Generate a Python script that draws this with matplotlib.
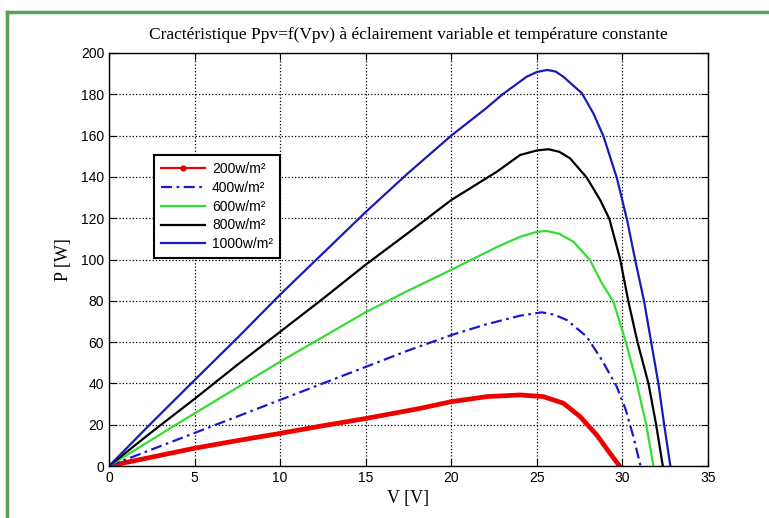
import matplotlib
matplotlib.use("Agg")
import matplotlib.pyplot as plt
from matplotlib.lines import Line2D

# Data
v_1000 = [0, 2.5, 5, 7.5, 10, 12.5, 15, 17.5, 20, 22, 23, 24.4, 25.0, 25.6, 26.1, 26.55, 27.63, 28.3, 28.9, 29.67, 30.26, 30.74, 31.27, 31.68, 32.1, 32.44, 32.8]
p_1000 = [0, 21, 41.6, 62, 83, 103, 123, 142, 160, 173, 180, 188.5, 190.8, 191.8, 191, 188.5, 180.5, 170.8, 159.5, 139.6, 119.6, 100, 79.6, 60, 40, 20, 0]

v_800 = [0, 2.5, 5, 7.5, 10, 12.5, 15, 17.5, 20, 22.66, 24.02, 25.0, 25.67, 26.3, 26.94, 27.92, 28.7, 29.24, 29.87, 30.35, 30.88, 31.52, 31.97, 32.36]
p_800 = [0, 16.5, 32.5, 49, 65, 81, 97.5, 113, 128.8, 142.5, 150.6, 152.8, 153.4, 152.2, 149, 139.6, 128.8, 119.6, 100, 79.6, 60, 40, 20, 0]

v_600 = [0, 2.5, 5, 7.5, 10, 12.5, 15, 17.5, 20, 22.66, 24.02, 25.0, 25.58, 26.3, 27.14, 28.1, 28.8, 29.47, 30.2, 30.84, 31.39, 31.81]
p_600 = [0, 12.8, 25.5, 38, 50.5, 62.5, 74.5, 85, 95, 106, 111, 113.4, 113.8, 112.5, 108.6, 99.8, 88.5, 79.6, 60, 40, 20, 0]

v_400 = [0, 2.5, 5, 7.5, 10, 12.5, 15, 17.5, 20, 22, 24.02, 25.29, 26.0, 26.75, 27.92, 28.8, 29.67, 30.2, 30.64, 31.06]
p_400 = [0, 8, 16, 24, 32, 40, 48, 56, 63.4, 68.5, 72.8, 74.4, 73.3, 70.7, 62.6, 51.3, 38.4, 27.1, 14.2, 0]

v_200 = [0, 2.5, 5, 7.5, 10, 12.5, 15, 18.18, 19.97, 22.07, 24.02, 25.38, 26.55, 27.53, 28.5, 29.28, 29.83]
p_200 = [0, 4.3, 8.6, 12.3, 15.8, 19.5, 23, 27.9, 31.1, 33.6, 34.4, 33.6, 30.4, 23.9, 15, 6.1, 0]

labels = ["200w/m²", "400w/m²", "600w/m²", "800w/m²", "1000w/m²"]
x_ticks = [0, 5, 10, 15, 20, 25, 30, 35]
y_ticks = [0, 20, 40, 60, 80, 100, 120, 140, 160, 180, 200]

fig = plt.figure(figsize=(7.69, 5.18), dpi=100)
ax = fig.add_axes([109/769, 52/518, 599/769, 413/518])

dashdot = (0, (5, 2, 1.2, 2))
ax.plot(v_200, p_200, color="#ee0000", lw=3.4, solid_capstyle="round", solid_joinstyle="round")
ax.plot(v_400, p_400, color="#1a1acc", lw=1.6, linestyle=dashdot)
ax.plot(v_600, p_600, color="#33dd33", lw=1.6, solid_joinstyle="round")
ax.plot(v_800, p_800, color="black", lw=1.6, solid_joinstyle="round")
ax.plot(v_1000, p_1000, color="#1a1ab8", lw=1.6, solid_joinstyle="round")

ax.set_xlim(0, 35)
ax.set_ylim(0, 200)
ax.set_xticks(x_ticks)
ax.set_yticks(y_ticks)
ax.grid(True, color="black", linestyle=":", linewidth=0.9)
ax.tick_params(direction="in", top=True, right=True, length=5, labelsize=10)
for lab in ax.get_xticklabels() + ax.get_yticklabels():
    lab.set_fontfamily("Liberation Sans")
for s in ax.spines.values():
    s.set_linewidth(1.0)

ax.set_title("Cractéristique Ppv=f(Vpv) à éclairement variable et température constante",
             fontfamily="Liberation Serif", fontsize=12.5, pad=10)
ax.set_xlabel("V [V]", fontfamily="Liberation Serif", fontsize=13, labelpad=4)
ax.set_ylabel("P [W]", fontfamily="Liberation Serif", fontsize=13, labelpad=6)

handles = [
    Line2D([], [], color="#ee0000", lw=1.6, marker=".", markersize=7),
    Line2D([], [], color="#1a1acc", lw=1.6, linestyle=dashdot),
    Line2D([], [], color="#33dd33", lw=1.6),
    Line2D([], [], color="black", lw=1.6),
    Line2D([], [], color="#1a1ab8", lw=1.6),
]
leg = ax.legend(handles, labels, loc="upper left", bbox_to_anchor=(0.063, 0.77),
                prop={"family": "Liberation Sans", "size": 10}, fancybox=False,
                framealpha=1, edgecolor="black", handlelength=3.2, borderpad=0.5,
                labelspacing=0.35, handletextpad=0.5)
leg.get_frame().set_linewidth(1.5)

# green frame of the screenshot
fig.add_artist(Line2D([7/769, 1.0], [1 - 12/518, 1 - 12/518], color="#5aa05a", lw=2.5,
                      transform=fig.transFigure))
fig.add_artist(Line2D([7/769, 7/769], [0, 1 - 12/518], color="#5aa05a", lw=2.5,
                      transform=fig.transFigure))

fig.savefig("out.png", dpi=100)
